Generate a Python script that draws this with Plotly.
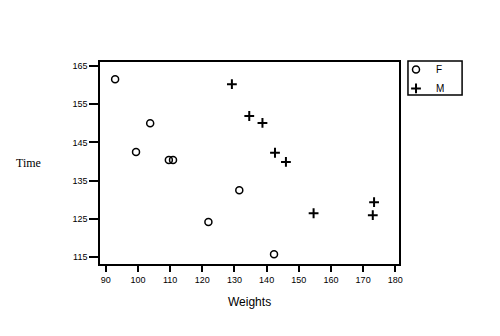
import plotly.graph_objects as go

f_weights = [92.9, 99.4, 103.8, 109.6, 110.9, 121.9, 131.5, 142.3]
f_times = [161.5, 142.5, 150.0, 140.4, 140.4, 124.2, 132.5, 115.8]
m_weights = [129.2, 134.6, 138.7, 142.6, 146.0, 154.6, 173.0, 173.4]
m_times = [160.2, 151.9, 150.1, 142.3, 139.9, 126.5, 126.0, 129.4]
x_ticks = [90, 100, 110, 120, 130, 140, 150, 160, 170, 180]
y_ticks = [115, 125, 135, 145, 155, 165]

fig = go.Figure()
fig.add_trace(go.Scatter(x=f_weights, y=f_times, mode="markers", name="F",
                         marker=dict(symbol="circle-open", size=7, color="black",
                                     line=dict(width=1.5, color="black"))))
fig.add_trace(go.Scatter(x=m_weights, y=m_times, mode="markers", name="M",
                         marker=dict(symbol="cross-thin-open", size=7, color="black",
                                     line=dict(width=2, color="black"))))

axis_common = dict(showgrid=False, zeroline=False, showline=True, linecolor="black",
                   linewidth=1.5, mirror=True, ticks="outside", tickcolor="black",
                   tickwidth=1.5, tickfont=dict(family="Liberation Sans", size=9, color="black"))
fig.update_xaxes(range=[88.2, 181.15], tickvals=x_ticks, ticklen=6, **axis_common)
fig.update_yaxes(range=[113.25, 166], tickvals=y_ticks, ticklen=9, **axis_common)

fig.add_annotation(text="Time", xref="paper", yref="paper", x=-0.24, y=0.5,
                   xanchor="center", yanchor="middle", showarrow=False,
                   font=dict(family="Liberation Serif", size=12, color="black"))
fig.add_annotation(text="Weights", xref="paper", yref="paper", x=0.5, y=-0.19,
                   xanchor="center", yanchor="middle", showarrow=False,
                   font=dict(family="Liberation Sans", size=12, color="black"))

# legend frame
fig.add_shape(type="rect", xref="paper", yref="paper", x0=1.030, x1=1.211,
              y0=0.8366, y1=1.005, line=dict(color="black", width=1.5),
              fillcolor="rgba(0,0,0,0)")

fig.update_layout(
    width=500, height=336,
    margin=dict(l=100, r=101, t=62, b=72),
    paper_bgcolor="white", plot_bgcolor="white",
    showlegend=True,
    legend=dict(x=0.990, y=1.035, xanchor="left", yanchor="top",
                borderwidth=0, bgcolor="rgba(0,0,0,0)",
                font=dict(family="Liberation Sans", size=10, color="black"),
                itemwidth=30, tracegroupgap=0),
)
fig.write_html("out.html")
